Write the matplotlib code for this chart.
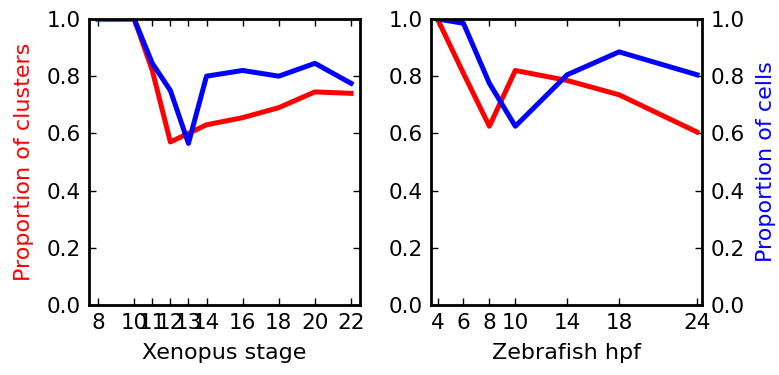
import matplotlib
matplotlib.use("Agg")
import matplotlib.pyplot as plt

# Xenopus stages
xen_stage = [8, 10, 11, 12, 13, 14, 16, 18, 20, 22]
xen_clusters = [1.0, 1.0, 0.82, 0.57, 0.60, 0.63, 0.655, 0.69, 0.745, 0.74]
xen_cells = [1.0, 1.0, 0.845, 0.75, 0.565, 0.80, 0.82, 0.80, 0.845, 0.775]

# Zebrafish hours post fertilisation
zf_hpf = [4, 6, 8, 10, 14, 18, 24]
zf_clusters = [1.0, 0.81, 0.625, 0.82, 0.785, 0.735, 0.605]
zf_cells = [1.0, 0.985, 0.775, 0.625, 0.805, 0.885, 0.805]

yticks = [0.0, 0.2, 0.4, 0.6, 0.8, 1.0]

plt.rcParams['font.family'] = 'DejaVu Sans'

fig = plt.figure(figsize=(7.79, 3.75), dpi=100)
ax1 = fig.add_axes([0.1143, 0.1867, 0.348, 0.7627])
ax2 = fig.add_axes([0.5533, 0.1867, 0.348, 0.7627])


def style_axes(ax):
    for s in ax.spines.values():
        s.set_linewidth(2)
    ax.tick_params(direction='in', length=5, width=1, top=True, right=True,
                   labelsize=15.5, pad=6)
    ax.set_ylim(0, 1)
    ax.set_yticks(yticks)
    ax.set_yticklabels([f"{v:.1f}" for v in yticks])


ax1.plot(xen_stage, xen_clusters, color='red', lw=3.6)
ax1.plot(xen_stage, xen_cells, color='blue', lw=3.6)
style_axes(ax1)
ax1.set_xlim(7.5, 22.5)
ax1.set_xticks(xen_stage)
ax1.set_xlabel('Xenopus stage', fontsize=16, labelpad=7)
ax1.set_ylabel('Proportion of clusters', color='red', fontsize=16, labelpad=9)

ax2.plot(zf_hpf, zf_clusters, color='red', lw=3.6)
ax2.plot(zf_hpf, zf_cells, color='blue', lw=3.6)
style_axes(ax2)
ax2.tick_params(labelright=True)
ax2.set_xlim(3.5, 24.4)
ax2.set_xticks(zf_hpf)
ax2.set_xlabel('Zebrafish hpf', fontsize=16, labelpad=7)
ax2.yaxis.set_label_position('right')
ax2.set_ylabel('Proportion of cells', color='blue', fontsize=16, labelpad=8)

fig.savefig('out.png', dpi=100)
